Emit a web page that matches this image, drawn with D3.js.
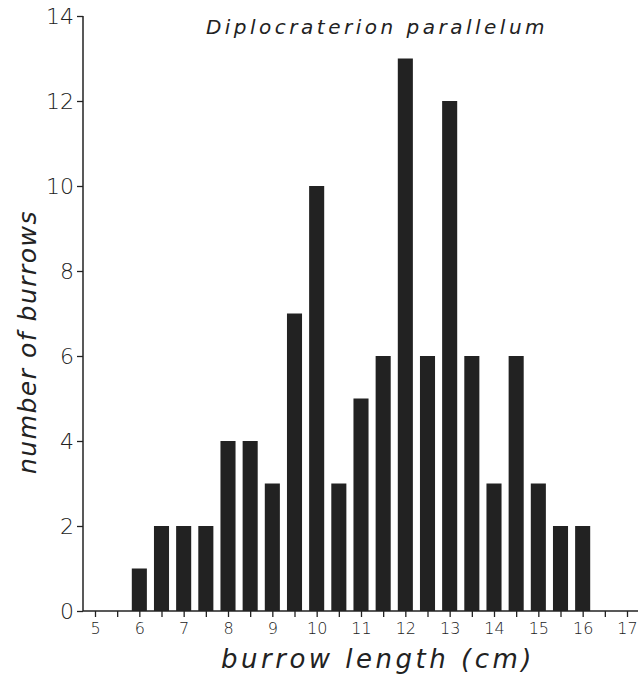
<!DOCTYPE html>
<html>
<head>
<meta charset="utf-8">
<script src="https://cdn.jsdelivr.net/npm/d3@7"></script>
<style>
	body { margin:0; background:#fff; }
	svg text { fill:#222; }
	.tick text { font-family:"DejaVu Sans"; font-weight:200; }
</style>
</head>
<body>
<svg id="chart" width="640" height="677"></svg>
<script>
// bin centres (cm) and counts
var binCentres	= [6, 6.5, 7, 7.5, 8, 8.5, 9, 9.5, 10, 10.5, 11, 11.5, 12, 12.5, 13, 13.5, 14, 14.5, 15, 15.5, 16];
var burrowCounts	= [1, 2, 2, 2, 4, 4, 3, 7, 10, 3, 5, 6, 13, 6, 12, 6, 3, 6, 3, 2, 2];
var xTicks	= [5, 6, 7, 8, 9, 10, 11, 12, 13, 14, 15, 16, 17];
var yTicks	= [0, 2, 4, 6, 8, 10, 12, 14];

var svg = d3.select('#chart'), ink = '#222';
var x = d3.scaleLinear().domain([5, 17]).range([95, 627]);
var y = d3.scaleLinear().domain([0, 14]).range([611, 16]);
var bw = (x(0.5) - x(0)) * 0.68;

var data = binCentres.map(function(c, i) { return { 'c': c, 'n': burrowCounts[i] }; });

svg.append('g').selectAll('rect').data(data).enter().append('rect')
	.attr('x', function(d) { return x(d.c) - bw / 2; })
	.attr('width', bw)
	.attr('y', function(d) { return y(d.n); })
	.attr('height', function(d) { return y(0) - y(d.n); })
	.attr('fill', ink);

// x axis: half-cm ticks, integers labelled
var halfTicks = d3.range(5, 17.01, 0.5);
var xa = svg.append('g').attr('transform', 'translate(0,' + y(0) + ')')
	.call(d3.axisBottom(x).tickValues(halfTicks).tickSize(6).tickPadding(6)
		.tickFormat(function(d) { return xTicks.indexOf(d) >= 0 ? d : ''; }));
xa.select('.domain').attr('d', 'M83,0H638').attr('stroke', ink).attr('stroke-width', 1.5);
xa.selectAll('.tick line').attr('stroke', ink).attr('stroke-width', 1.3);
xa.selectAll('.tick text').style('font-size', '16px');

// y axis
var ya = svg.append('g').attr('transform', 'translate(83,0)')
	.call(d3.axisLeft(y).tickValues(yTicks).tickSize(6).tickPadding(3));
ya.select('.domain').attr('d', 'M0,' + y(14) + 'V' + y(0)).attr('stroke', ink).attr('stroke-width', 1.5);
ya.selectAll('.tick line').attr('stroke', ink).attr('stroke-width', 1.3);
ya.selectAll('.tick text').style('font-size', '22px');

svg.append('text').attr('x', 377).attr('y', 34).attr('text-anchor', 'middle')
	.style('font-family', 'DejaVu Sans').style('font-style', 'italic').style('font-size', '20px').style('letter-spacing', '3.5px')
	.text('Diplocraterion parallelum');

svg.append('text').attr('x', 378).attr('y', 668).attr('text-anchor', 'middle')
	.style('font-family', 'DejaVu Sans').style('font-style', 'italic').style('font-weight', 200).style('font-size', '26px').style('letter-spacing', '3.5px')
	.text('burrow length (cm)');

svg.append('text').attr('transform', 'translate(36,' + 342 + ') rotate(-90)').attr('text-anchor', 'middle')
	.style('font-family', 'DejaVu Sans').style('font-style', 'italic').style('font-weight', 200).style('font-size', '25px').style('letter-spacing', '1.5px')
	.text('number of burrows');
</script>
</body>
</html>
